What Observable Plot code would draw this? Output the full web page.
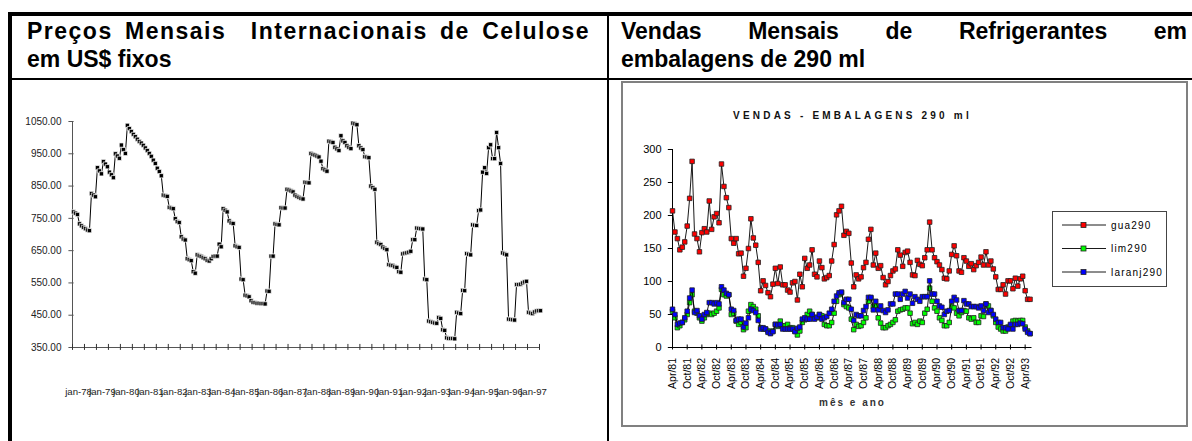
<!DOCTYPE html>
<html><head><meta charset="utf-8">
<script src="https://cdn.jsdelivr.net/npm/d3@7"></script>
<script src="https://cdn.jsdelivr.net/npm/@observablehq/plot@0.6"></script>
<style>
html,body{margin:0;padding:0;background:#fff;}
body{width:1192px;height:441px;position:relative;overflow:hidden;font-family:"Liberation Sans",Arial,sans-serif;}
.ln{position:absolute;background:#000;}
.tl{position:absolute;font-weight:bold;font-size:23px;line-height:28px;color:#000;white-space:nowrap;}
.just{text-align:justify;text-align-last:justify;white-space:normal;}
#leftchart{position:absolute;left:8px;top:80px;}
#rightbox{position:absolute;left:621px;top:81px;width:563px;height:342px;border:2px solid #808080;}
#rightchart{position:absolute;left:621px;top:81px;}
#legend{position:absolute;left:1052px;top:211px;width:113px;height:74px;border:1px solid #444;background:#fff;}
</style>
</head><body>
<div class="ln" style="left:8px;top:12px;width:1184px;height:4px"></div>
<div class="ln" style="left:8px;top:12px;width:4px;height:429px"></div>
<div class="ln" style="left:607px;top:12px;width:2px;height:429px"></div>
<div class="ln" style="left:8px;top:78px;width:1184px;height:2px"></div>
<div id="rightbox"></div>
<div class="tl just" style="left:27px;top:17px;width:563px;letter-spacing:1.5px">Preços Mensais&nbsp; Internacionais de Celulose</div>
<div class="tl" style="left:27px;top:45px">em US$ fixos</div>
<div class="tl just" style="left:621px;top:17px;width:566px">Vendas Mensais de Refrigerantes em</div>
<div class="tl" style="left:621px;top:45px">embalagens de 290 ml</div>
<div id="leftchart"></div>
<div id="rightchart"></div>
<div id="legend"></div>
<script>
// ---- Left chart: monthly cellulose prices (jan-78 ... jul-97)
const celulose = [770,766,762,733,727,722,718,714,712,827,
822,817,907,897,888,926,918,910,893,885,
876,950,943,936,977,963,951,1038,1028,1019,
1010,1003,995,988,983,976,968,960,951,942,
930,920,905,895,882,822,820,818,784,782,
780,749,740,737,693,686,683,625,622,619,
585,580,637,634,632,628,625,620,618,625,
632,633,633,670,662,780,775,770,742,736,
734,665,662,660,562,560,512,510,507,495,
490,489,487,487,486,486,485,525,524,633,
633,733,731,730,783,782,782,840,838,835,
832,822,818,815,812,810,862,861,860,951,
948,946,943,940,927,904,900,896,989,987,
985,970,965,960,1006,990,985,975,970,966,
1045,1043,1040,975,968,963,941,940,938,850,
845,840,676,672,669,661,657,653,607,605,
604,600,598,585,583,640,642,643,645,648,
684,684,720,719,718,717,562,560,432,430,
428,426,425,443,440,405,403,380,378,378,
378,377,459,457,455,527,526,641,639,637,
730,729,728,774,776,893,907,889,969,978,
935,935,1016,969,920,643,640,637,438,437,
436,435,545,545,546,550,553,555,459,457,
455,460,463,464,464];
const celuloseXLabels = ["jan-78","jan-79","jan-80","jan-81","jan-82","jan-83","jan-84","jan-85","jan-86","jan-87","jan-88","jan-89","jan-90","jan-91","jan-92","jan-93","jan-94","jan-95","jan-96","jan-97"];
const celuloseYTicks = [350,450,550,650,750,850,950,1050];

// ---- Right chart: monthly soft drink sales, 290 ml (Apr/81 ... Jun/93)
const vendasXLabels = ["Apr/81","Oct/81","Apr/82","Oct/82","Apr/83","Oct/83","Apr/84","Oct/84","Apr/85","Oct/85","Apr/86","Oct/86","Apr/87","Oct/87","Apr/88","Oct/88","Apr/89","Oct/89","Apr/90","Oct/90","Apr/91","Oct/91","Apr/92","Oct/92","Apr/93"];
const vendasYTicks = [0,50,100,150,200,250,300];
const gua290 = [207,175,165,148,152,160,184,226,282,172,
165,145,174,180,175,222,179,198,203,189,
278,244,227,212,165,158,165,142,143,108,
120,150,195,166,155,129,86,101,94,83,
77,96,120,97,122,95,95,87,84,98,
100,72,111,92,135,120,125,148,111,107,
131,121,104,106,109,131,156,201,207,214,
170,176,173,128,92,110,104,107,121,129,
164,179,125,143,120,124,106,95,100,109,
116,119,148,140,123,144,146,129,110,109,
132,126,124,136,148,190,148,136,130,125,
118,105,104,116,141,154,139,116,114,136,
131,123,127,118,124,129,137,125,145,125,
131,119,107,88,88,95,81,101,101,89,
105,93,104,108,86,73,73];
const lim290 = [55,45,30,33,38,42,50,68,80,55,
52,45,40,45,50,52,50,52,55,60,
88,80,78,80,50,52,40,35,38,27,
30,55,65,62,58,48,30,28,28,25,
22,25,35,32,40,32,33,35,30,30,
25,19,25,38,42,50,55,50,45,45,
50,48,35,33,33,38,52,70,80,83,
65,62,60,43,27,35,32,33,38,45,
70,75,62,63,45,37,30,30,33,35,
38,42,55,57,58,60,60,52,36,38,
35,40,38,52,58,90,70,60,55,45,
41,33,33,38,62,60,52,48,53,56,
55,45,43,45,38,38,48,47,66,63,
56,48,38,31,28,25,25,31,33,40,
41,40,41,41,31,25,21];
const laranj290 = [58,50,35,37,38,45,55,75,87,53,
56,48,43,50,53,68,68,66,68,66,
92,87,82,80,58,56,41,43,43,31,
37,45,58,56,53,41,28,30,28,23,
21,24,35,34,35,28,28,28,28,28,
24,29,31,43,45,43,43,50,43,46,
50,43,45,47,52,58,70,78,83,84,
68,73,73,58,41,50,48,48,56,62,
76,76,57,70,57,63,56,53,57,66,
66,81,81,73,81,85,75,81,67,77,
73,70,77,77,77,101,81,81,70,63,
61,50,55,56,70,76,72,56,56,71,
66,66,62,62,62,60,63,56,66,53,
56,50,43,38,38,30,30,28,35,28,
35,35,37,36,28,23,21];
const seriesNames = ["gua290","lim290","laranj290"];
const seriesColors = ["#ff0000","#00ff00","#0000ff"];
const vendasTitle = "VENDAS - EMBALAGENS 290 ml";
const vendasXTitle = "mês e ano";

const FONT = "'Liberation Sans', Arial, sans-serif";

// ---------- left chart
const celRows = celulose.map((v, i) => ({i, v}));
const celTickPos = d3.range(0, 40).map(k => k * 6 - 0.5);
const celLabelRows = celuloseXLabels.map((t, k) => ({i: k * 12, t}));
const left = Plot.plot({
  width: 598, height: 361,
  marginLeft: 64, marginRight: 66, marginTop: 41, marginBottom: 94,
  x: {domain: [-0.5, 234], axis: null},
  y: {domain: [350, 1050], axis: null},
  style: {fontFamily: FONT, fontSize: "10px", background: "transparent", overflow: "visible", color: "#222"},
  marks: [
    Plot.ruleX([-0.5], {y1: 350, y2: 1050, stroke: "#555"}),
    Plot.ruleY(celuloseYTicks, {x1: -2.3, x2: 0.3, stroke: "#555"}),
    Plot.axisY({ticks: celuloseYTicks, tickFormat: d => d.toFixed(2), tickSize: 0, tickPadding: 11, fontSize: 10, label: null}),
    Plot.ruleY([350], {x1: -0.5, x2: 234, stroke: "#555"}),
    Plot.ruleX(celTickPos, {y1: 341, y2: 359.5, stroke: "#333"}),
    Plot.text(celLabelRows, {x: "i", y: () => 350, text: "t", dy: 44, dx: 5, fontSize: 9.6, fill: "#222"}),
    Plot.line(celRows, {x: "i", y: "v", stroke: "#000", strokeWidth: 1}),
    Plot.dot(celRows, {x: "i", y: "v", symbol: "square", r: 2.4, fill: "#000", stroke: "#fff", strokeWidth: 0.7})
  ]
});
document.getElementById("leftchart").appendChild(left);

// ---------- right chart
const seriesData = [gua290, lim290, laranj290];
const vRows = [];
seriesData.forEach((arr, s) => arr.forEach((v, i) => vRows.push({s: seriesNames[s], i, v})));
const vTickRows = vendasXLabels.map((t, k) => ({i: k * 6, t}));
const lineMarks = [];
seriesData.forEach((arr, s) => {
  const rows = vRows.filter(d => d.s === seriesNames[s]);
  lineMarks.push(Plot.line(rows, {x: "i", y: "v", stroke: "#000", strokeWidth: 0.9}));
  lineMarks.push(Plot.dot(rows, {x: "i", y: "v", symbol: "square", r: 2.55, fill: seriesColors[s], stroke: "#222", strokeWidth: 0.8}));
});
const right = Plot.plot({
  width: 567, height: 346,
  marginLeft: 51, marginRight: 156, marginTop: 68, marginBottom: 80,
  x: {domain: [0, 147], axis: null},
  y: {domain: [0, 300], axis: null},
  style: {fontFamily: FONT, fontSize: "10px", background: "transparent", overflow: "visible", color: "#000"},
  marks: [
    Plot.ruleX([0], {y1: 0, y2: 300, stroke: "#000"}),
    Plot.ruleY(vendasYTicks, {x1: -1.7, x2: 0, stroke: "#000"}),
    Plot.axisY({ticks: vendasYTicks, tickSize: 0, tickPadding: 11, fontSize: 11, label: null}),
    Plot.ruleY([0], {x1: 0, x2: 146.8, stroke: "#000"}),
    Plot.ruleX(vTickRows, {x: "i", y1: -3.8, y2: 3.8, stroke: "#000"}),
    Plot.text(vTickRows, {x: "i", y: () => 0, text: "t", rotate: -90, textAnchor: "end", lineAnchor: "middle", dy: 10.5, fontSize: 10.5, fill: "#000"}),
    Plot.text([vendasTitle], {frameAnchor: "top", dy: -34, lineAnchor: "middle", fontWeight: "bold", fontSize: 10, fill: "#111"}),
    Plot.text([vendasXTitle], {frameAnchor: "bottom", dy: 55, lineAnchor: "middle", fontWeight: "bold", fontSize: 10, fill: "#333"}),
    ...lineMarks
  ]
});
document.getElementById("rightchart").appendChild(right);
d3.select(right).selectAll("text").each(function() {
  const t = this.textContent;
  if (t === vendasTitle) d3.select(this).style("letter-spacing", "3.2px");
  if (t === vendasXTitle) d3.select(this).style("letter-spacing", "2px");
});

// ---------- legend (HTML block beside the plot)
const lg = d3.select("#legend").append("svg").attr("width", 113).attr("height", 74).style("display", "block");
seriesNames.forEach((name, s) => {
  const cy = 13 + s * 23.5;
  const g = lg.append("g");
  g.append("line").attr("x1", 9).attr("x2", 53).attr("y1", cy).attr("y2", cy).attr("stroke", "#000").attr("stroke-width", 0.9);
  g.append("rect").attr("x", 28).attr("y", cy - 2.5).attr("width", 5).attr("height", 5).attr("fill", seriesColors[s]).attr("stroke", "#222").attr("stroke-width", 0.8);
  g.append("text").attr("x", 58).attr("y", cy).attr("dy", "0.35em").attr("font-size", 10).attr("font-family", FONT).style("letter-spacing", "1.2px").text(name);
});
</script>
</body></html>
